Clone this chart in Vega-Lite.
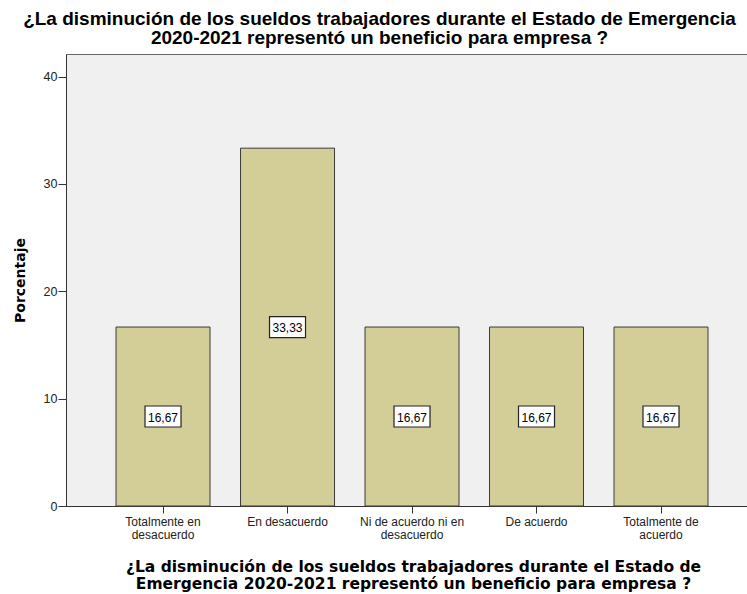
{
  "$schema": "https://vega.github.io/schema/vega-lite/v6.json",
  "width": 681,
  "height": 452,
  "autosize": {"type": "none"},
  "padding": {"left": 66, "top": 54, "right": 0, "bottom": 88},
  "background": "white",
  "title": {
    "text": ["¿La disminución de los sueldos trabajadores durante el Estado de Emergencia", "2020-2021 representó un beneficio para empresa ?"],
    "anchor": "middle",
    "frame": "group",
    "dx": -27,
    "offset": 6,
    "font": "Liberation Sans",
    "fontSize": 19,
    "fontWeight": "bold",
    "lineHeight": 19,
    "color": "black"
  },
  "data": {
    "values": [
      {"respuesta": "Totalmente en desacuerdo", "porcentaje": 16.67},
      {"respuesta": "En desacuerdo", "porcentaje": 33.33},
      {"respuesta": "Ni de acuerdo ni en desacuerdo", "porcentaje": 16.67},
      {"respuesta": "De acuerdo", "porcentaje": 16.67},
      {"respuesta": "Totalmente de acuerdo", "porcentaje": 16.67}
    ]
  },
  "layer": [
    {
      "mark": {"type": "bar", "color": "#D3CE98", "stroke": "#3a3a3a", "strokeWidth": 1},
      "encoding": {
        "x": {
          "field": "respuesta",
          "type": "nominal",
          "sort": null,
          "scale": {"paddingInner": 0.245, "paddingOuter": 0.3575, "align": 0.562},
          "axis": {
            "labelAngle": 0,
            "labelExpr": "datum.value == 'Totalmente en desacuerdo' ? ['Totalmente en', 'desacuerdo'] : datum.value == 'Ni de acuerdo ni en desacuerdo' ? ['Ni de acuerdo ni en', 'desacuerdo'] : datum.value == 'Totalmente de acuerdo' ? ['Totalmente de', 'acuerdo'] : datum.value",
            "labelFont": "Liberation Sans",
            "labelFontSize": 12,
            "labelColor": "#222",
            "labelLineHeight": 13.5,
            "labelBaseline": "top",
            "labelPadding": 3,
            "tickSize": 7,
            "tickColor": "#333",
            "domainColor": "#333",
            "title": ["¿La disminución de los sueldos trabajadores durante el Estado de", "Emergencia 2020-2021 representó un beneficio para empresa ?"],
            "titleFont": "DejaVu Sans",
            "titleFontSize": 15.5,
            "titleFontWeight": "bold",
            "titleColor": "black",
            "titleLineHeight": 17,
            "titleBaseline": "top",
            "titleAlign": "center",
            "titleX": 347,
            "titleY": 53
          }
        },
        "y": {
          "field": "porcentaje",
          "type": "quantitative",
          "scale": {"domain": [0, 42.1], "nice": false},
          "axis": {
            "values": [0, 10, 20, 30, 40],
            "grid": false,
            "title": "Porcentaje",
            "titleFont": "DejaVu Sans",
            "titleFontSize": 14,
            "titleFontWeight": "bold",
            "titleColor": "black",
            "titleAngle": 270,
            "titleAlign": "center",
            "titleBaseline": "middle",
            "titleX": -46,
            "titleY": 226,
            "labelFont": "Liberation Sans",
            "labelFontSize": 12.5,
            "labelColor": "#222",
            "labelPadding": 1,
            "tickSize": 8,
            "tickColor": "#333",
            "domainColor": "#333"
          }
        }
      }
    },
    {
      "mark": {"type": "point", "shape": "M-1,-0.5833L1,-0.5833L1,0.5833L-1,0.5833Z", "size": 1296, "filled": true, "fill": "white", "stroke": "#222", "strokeWidth": 1.2, "opacity": 1},
      "encoding": {
        "x": {"field": "respuesta", "type": "nominal", "sort": null},
        "y": {"field": "porcentaje", "type": "quantitative", "scale": {"domain": [0, 84.2], "nice": false}, "axis": null}
      }
    },
    {
      "mark": {"type": "text", "font": "Liberation Sans", "fontSize": 12, "color": "black", "baseline": "middle", "dy": 1},
      "encoding": {
        "x": {"field": "respuesta", "type": "nominal", "sort": null},
        "y": {"field": "porcentaje", "type": "quantitative", "scale": {"domain": [0, 84.2], "nice": false}, "axis": null},
        "text": {"field": "porcentaje", "type": "quantitative", "format": ".2f"}
      }
    }
  ],
  "resolve": {"scale": {"y": "independent"}},
  "config": {
    "view": {"fill": "#F0F0F0", "stroke": "#666"},
    "locale": {"number": {"decimal": ",", "thousands": ".", "grouping": [3], "currency": ["", " €"]}}
  }
}
